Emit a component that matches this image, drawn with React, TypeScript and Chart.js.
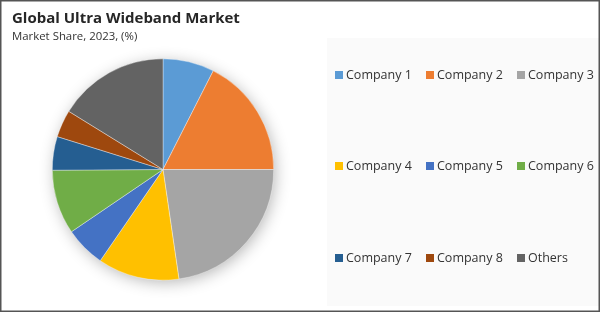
import React, { useEffect, useRef } from "react";
import { Chart, registerables } from "chart.js";

Chart.register(...registerables);

const categories = [
  "Company 1",
  "Company 2",
  "Company 3",
  "Company 4",
  "Company 5",
  "Company 6",
  "Company 7",
  "Company 8",
  "Others",
];
const shares = [7.5, 17.5, 22.7, 11.9, 5.9, 9.4, 4.9, 4.0, 16.2];
const colors = [
  "#5B9BD5",
  "#ED7D31",
  "#A5A5A5",
  "#FFC000",
  "#4472C4",
  "#70AD47",
  "#255E91",
  "#9E480E",
  "#636363",
];
const titleText = "Global Ultra Wideband Market";
const subtitleText = "Market Share, 2023, (%)";

const FONT = "'Open Sans', 'DejaVu Sans', sans-serif";

const decorPlugin = {
  id: "decor",
  beforeDraw(chart: any) {
    const ctx = chart.ctx;
    const W = chart.width;
    const H = chart.height;
    ctx.save();
    ctx.fillStyle = "#ffffff";
    ctx.fillRect(0, 0, W, H);
    // legend panel background
    ctx.fillStyle = "#fafafa";
    ctx.fillRect(327, 38, W - 327, H - 44);
    // title
    ctx.fillStyle = "#262626";
    ctx.textBaseline = "alphabetic";
    ctx.textAlign = "left";
    ctx.font = `bold 15px ${FONT}`;
    ctx.fillText(titleText, 12, 23);
    ctx.font = `11.4px ${FONT}`;
    ctx.fillStyle = "#333333";
    ctx.fillText(subtitleText, 12, 40);
    // legend
    const labels = chart.data.labels as string[];
    const bg = chart.data.datasets[0].backgroundColor as string[];
    const colX = [335, 426, 517];
    const rowY = [75, 166, 258];
    ctx.font = `12.5px ${FONT}`;
    ctx.textBaseline = "middle";
    labels.forEach((lab, i) => {
      const x = colX[i % 3];
      const y = rowY[Math.floor(i / 3)];
      ctx.fillStyle = bg[i];
      ctx.fillRect(x, y - 4, 8, 8);
      ctx.fillStyle = "#333333";
      ctx.fillText(lab, x + 11, y + 0.5);
    });
    ctx.restore();
  },
  beforeDatasetsDraw(chart: any) {
    const meta = chart.getDatasetMeta(0);
    const arc = meta.data[0];
    if (!arc) return;
    const { x, y, outerRadius } = arc.getProps(["x", "y", "outerRadius"], true);
    const ctx = chart.ctx;
    ctx.save();
    ctx.shadowColor = "rgba(0,0,0,0.3)";
    ctx.shadowBlur = 16;
    ctx.shadowOffsetX = 2;
    ctx.shadowOffsetY = 3;
    ctx.fillStyle = "#ffffff";
    ctx.beginPath();
    ctx.arc(x, y, outerRadius - 1, 0, Math.PI * 2);
    ctx.fill();
    ctx.restore();
  },
  afterDraw(chart: any) {
    const ctx = chart.ctx;
    ctx.save();
    ctx.strokeStyle = "#555555";
    ctx.lineWidth = 1.5;
    ctx.strokeRect(0.75, 0.75, chart.width - 1.5, chart.height - 1.5);
    ctx.restore();
  },
};

export default function App() {
  const ref = useRef<HTMLCanvasElement | null>(null);
  useEffect(() => {
    if (!ref.current) return;
    const chart = new Chart(ref.current, {
      type: "pie",
      data: {
        labels: categories,
        datasets: [
          {
            data: shares,
            backgroundColor: colors,
            borderColor: "rgba(255,255,255,0.6)",
            borderWidth: 0.6,
          },
        ],
      },
      options: {
        responsive: false,
        animation: false,
        layout: { padding: { left: 52, right: 326, top: 58, bottom: 31 } },
        plugins: {
          legend: { display: false },
          title: { display: false },
          tooltip: { enabled: false },
        },
      },
      plugins: [decorPlugin],
    });
    return () => chart.destroy();
  }, []);
  return (
    <div style={{ position: "fixed", left: 0, top: 0, width: 600, height: 312 }}>
      <canvas ref={ref} width={600} height={312} style={{ display: "block" }} />
    </div>
  );
}
